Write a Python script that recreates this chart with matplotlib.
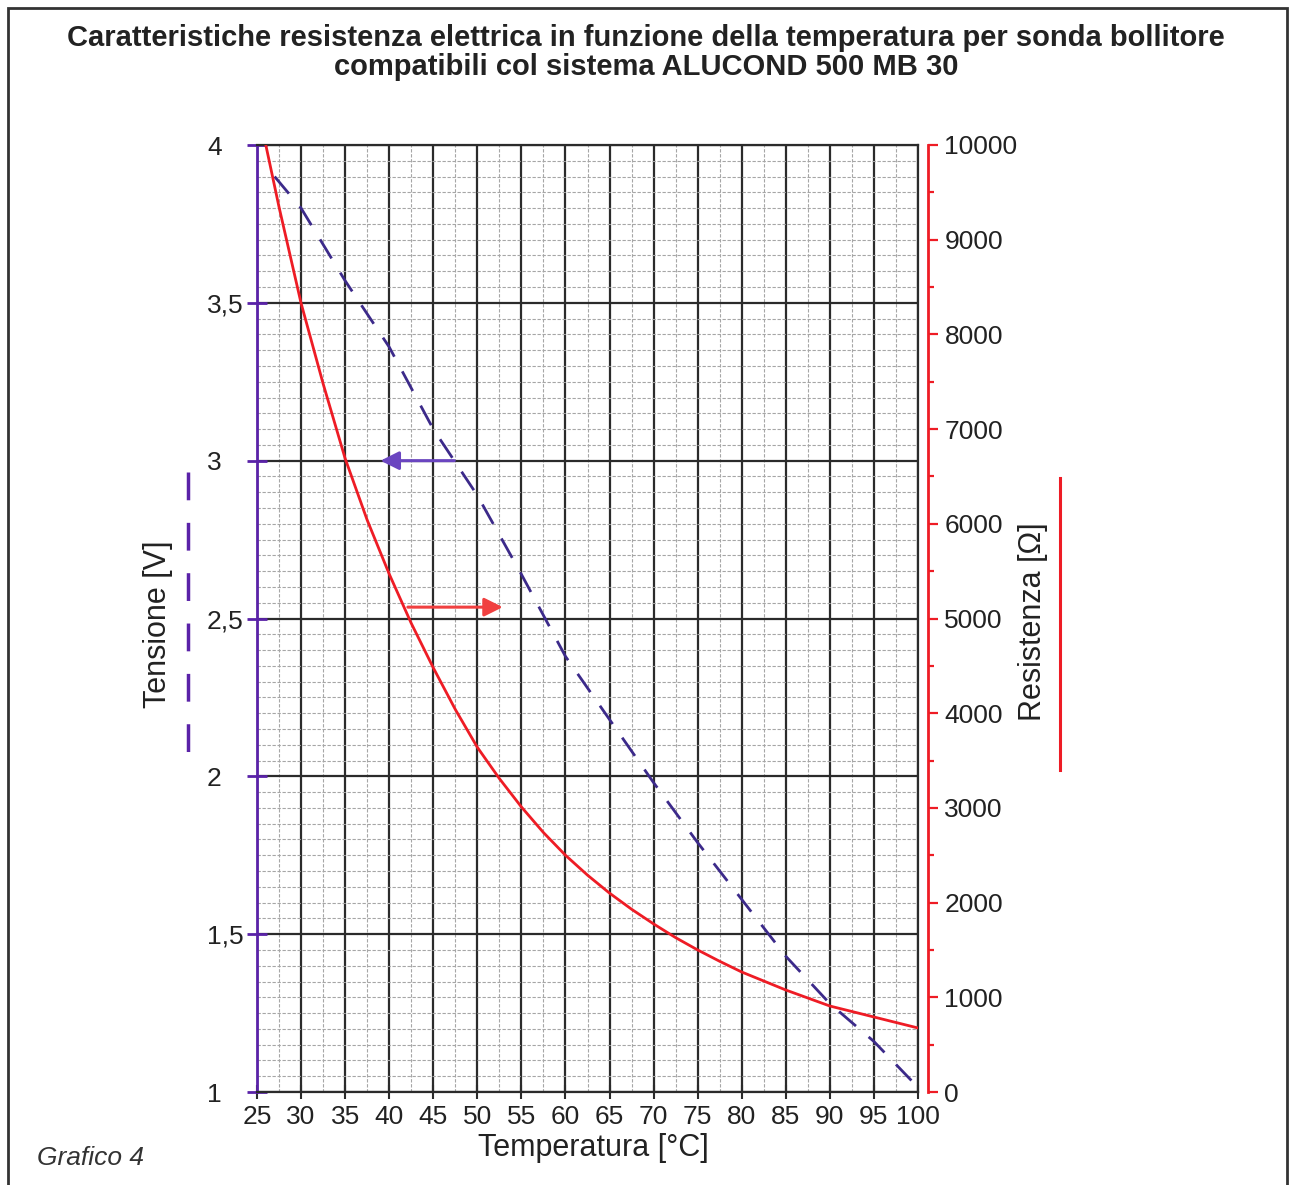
import numpy as np
import matplotlib.pyplot as plt
from matplotlib.lines import Line2D
from matplotlib.patches import Rectangle

plt.rcParams['font.family'] = ['Liberation Sans', 'DejaVu Sans']

# resistenza sonda [ohm] vs temperatura [°C]
temp_r = [26, 27.5, 30, 32.5, 35, 37.5, 40, 42.5, 45, 47.5, 50, 52.5, 55, 57.5, 60, 62.5, 65, 67.5,
          70, 72.5, 75, 77.5, 80, 85, 90, 95, 100]
resistenza = [10000, 9345, 8330, 7480, 6690, 6040, 5470, 4950, 4480, 4040, 3640, 3310, 3010, 2740,
              2500, 2290, 2100, 1930, 1775, 1630, 1500, 1380, 1267, 1077, 908, 792, 676]

# tensione [V] vs temperatura [°C]
temp_v = [27, 30, 35, 40, 45, 50, 55, 60, 65, 70, 75, 80, 85, 90, 95, 99.3]
tensione = [3.90, 3.80, 3.57, 3.36, 3.10, 2.89, 2.64, 2.38, 2.18, 1.98, 1.79, 1.61, 1.43, 1.28, 1.16, 1.035]

temp_ticks = list(range(25, 101, 5))
volt_ticks = [1, 1.5, 2, 2.5, 3, 3.5, 4]
volt_labels = ['1', '1,5', '2', '2,5', '3', '3,5', '4']
res_ticks = list(range(0, 10001, 1000))

# frecce
arrow_v = (47.7, 38.7, 3.0)       # da T, a T, tensione
arrow_r = (41.8, 53.2, 5120)      # da T, a T, resistenza

PURPLE = '#5a22a8'
DASH = '#3c2a8a'
RED = '#ee1c25'
DARK = '#2b2b2b'

fig = plt.figure(figsize=(12.92, 11.85), dpi=100)
ax = fig.add_axes([257/1292, 1-1092/1185, 661/1292, 947/1185])
ax2 = ax.twinx()

ax.set_xlim(25, 100)
ax.set_ylim(1, 4)
ax2.set_ylim(0, 10000)

# griglia
ax.set_xticks(temp_ticks)
ax.set_xticks(np.arange(27.5, 100, 5), minor=True)
ax.set_yticks(volt_ticks)
ax.set_yticklabels(volt_labels)
ax.set_yticks(np.arange(1, 4.001, 0.05), minor=True)
ax.grid(which='minor', color='#a6a6a6', lw=0.8, ls=(0, (3, 1.5)))
ax.grid(which='major', color=DARK, lw=1.6)
ax.set_axisbelow(True)

ax.tick_params(axis='x', which='major', direction='inout', length=10, width=1.5, color=DARK,
               labelsize=19, labelcolor='#222', pad=4)
ax.tick_params(axis='x', which='minor', length=0)
ax.tick_params(axis='y', which='major', direction='inout', length=14, width=2, color=PURPLE,
               labelsize=19, labelcolor='#222', pad=29)
ax.tick_params(axis='y', which='minor', length=0)
for lab in ax.get_yticklabels():
    lab.set_horizontalalignment('left')

for s in ['top', 'bottom', 'right']:
    ax.spines[s].set_color(DARK)
    ax.spines[s].set_linewidth(1.6)
ax.spines['left'].set_color(PURPLE)
ax.spines['left'].set_linewidth(2)

for s in ['top', 'bottom', 'left']:
    ax2.spines[s].set_visible(False)
ax2.spines['right'].set_position(('outward', 7))
ax2.spines['right'].set_color(RED)
ax2.spines['right'].set_linewidth(2)
ax2.set_yticks(res_ticks)
ax2.set_yticks(np.arange(500, 10000, 1000), minor=True)
ax2.tick_params(axis='y', which='major', direction='out', length=7, width=1.6, color=RED,
                labelsize=19, labelcolor='#222', pad=5)
ax2.tick_params(axis='y', which='minor', direction='out', length=4, width=1.6, color=RED)

# curve
ax.plot(temp_v, tensione, color=DASH, lw=2, ls=(0, (8, 6)))
ax2.plot(temp_r, resistenza, color=RED, lw=2)

ax.annotate('', xy=(arrow_v[1], arrow_v[2]), xytext=(arrow_v[0], arrow_v[2]),
            arrowprops=dict(arrowstyle='-|>', color='#6a45c0', lw=2.2, mutation_scale=28))
ax2.annotate('', xy=(arrow_r[1], arrow_r[2]), xytext=(arrow_r[0], arrow_r[2]),
             arrowprops=dict(arrowstyle='-|>', color='#f04040', lw=2.2, mutation_scale=28))

# testi
fig.text(0.5, 1-38/1185, 'Caratteristiche resistenza elettrica in funzione della temperatura per sonda bollitore',
         ha='center', va='center', fontsize=21, fontweight='bold', color='#222')
fig.text(0.5, 1-67/1185, 'compatibili col sistema ALUCOND 500 MB 30',
         ha='center', va='center', fontsize=21, fontweight='bold', color='#222')
fig.text(593/1292, 1-1148/1185, 'Temperatura [°C]', ha='center', va='center', fontsize=22, color='#222')
fig.text(158/1292, 1-624/1185, 'Tensione [V]', ha='center', va='center', rotation=90,
         fontsize=22, color='#222')
fig.text(1033/1292, 1-622/1185, 'Resistenza [Ω]', ha='center', va='center', rotation=90,
         fontsize=22, color='#222')
fig.text(37/1292, 1-1158/1185, 'Grafico 4', ha='left', va='center', fontsize=19,
         style='italic', color='#333')

# chiavi legenda
fig.add_artist(Line2D([188/1292, 188/1292], [1-472/1185, 1-760/1185], color=PURPLE, lw=2.5,
                      ls=(0, (8, 6.5))))
fig.add_artist(Line2D([1060/1292, 1060/1292], [1-478/1185, 1-770/1185], color=RED, lw=2.2))

# cornice
fig.add_artist(Rectangle((8/1292, -0.01), 1279/1292, 1.01-8/1185, fill=False,
                         edgecolor='#333', lw=2, transform=fig.transFigure))

fig.savefig('out.png', dpi=100)
